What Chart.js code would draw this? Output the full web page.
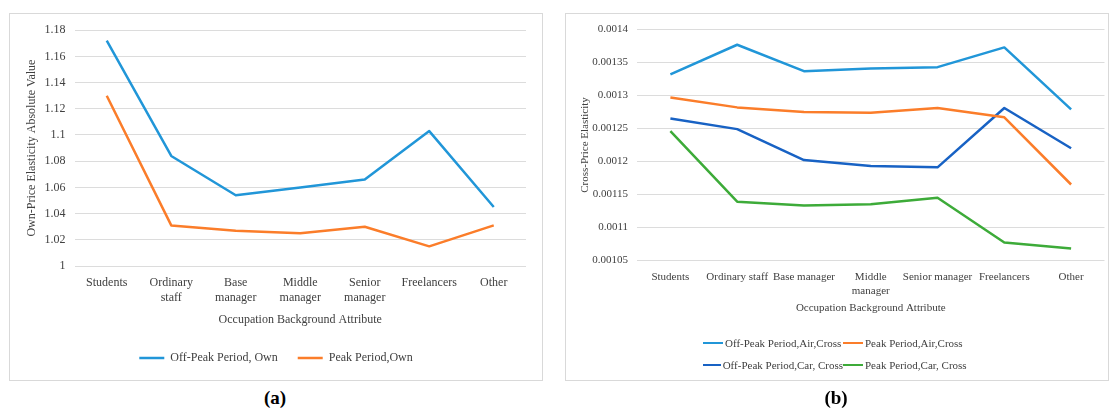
<!DOCTYPE html>
<html>
<head>
<meta charset="utf-8">
<script src="https://cdn.jsdelivr.net/npm/chart.js@4.4.0/dist/chart.umd.min.js"></script>
<style>
  html, body { margin: 0; padding: 0; background: #fff; }
  body { width: 1110px; height: 410px; position: relative; overflow: hidden; font-family: "Liberation Serif", "Times New Roman", serif; }
  .panel { position: absolute; border: 1px solid #d9d9d9; box-sizing: border-box; background: #fff; }
  #panelA { left: 9px; top: 13px; width: 534px; height: 368px; }
  #panelB { left: 565px; top: 13px; width: 544px; height: 368px; }
  .panel canvas { position: absolute; left: 0; top: 0; }
  .tag { position: absolute; top: 387px; font: bold 19px "Liberation Serif", serif; color: #000; transform: translateX(-50%); line-height: 22px; }
  #legendB { position: absolute; left: 137px; top: 318px; display: grid; grid-template-columns: 140px auto; }
  #legendB .item { display: flex; align-items: center; height: 22px; font: 11px "Liberation Serif", serif; color: #404040; white-space: nowrap; }
  #legendB .swatch { width: 20px; height: 2.5px; margin-right: 2px; }
</style>
</head>
<body>
<div class="panel" id="panelA"><canvas id="chartA" width="532" height="366"></canvas></div>
<div class="panel" id="panelB"><canvas id="chartB" width="542" height="366"></canvas><div id="legendB"></div></div>
<div class="tag" style="left:275px">(a)</div>
<div class="tag" style="left:836px">(b)</div>
<script>
// Occupation categories
const occupationLabelsA = [['Students'], ['Ordinary', 'staff'], ['Base', 'manager'], ['Middle', 'manager'], ['Senior', 'manager'], ['Freelancers'], ['Other']];
const occupationLabelsB = ['Students', 'Ordinary staff', 'Base manager', ['Middle', 'manager'], 'Senior manager', 'Freelancers', 'Other'];

// (a) own-price elasticity, absolute value
const offPeakOwn = [1.172, 1.084, 1.054, 1.060, 1.066, 1.103, 1.045];
const peakOwn = [1.130, 1.031, 1.027, 1.025, 1.030, 1.015, 1.031];

// (b) cross-price elasticity
const offPeakAirCross = [0.001332, 0.001377, 0.001337, 0.001341, 0.001343, 0.001373, 0.001279];
const peakAirCross = [0.001297, 0.001282, 0.001275, 0.001274, 0.001281, 0.001267, 0.001165];
const offPeakCarCross = [0.001265, 0.001249, 0.001202, 0.001193, 0.001191, 0.001281, 0.001220];
const peakCarCross = [0.001246, 0.001139, 0.001133, 0.001135, 0.001145, 0.001077, 0.001068];

// Axis ticks
const ownTickValues = [1, 1.02, 1.04, 1.06, 1.08, 1.1, 1.12, 1.14, 1.16, 1.18];
const ownTickLabels = ['1', '1.02', '1.04', '1.06', '1.08', '1.1', '1.12', '1.14', '1.16', '1.18'];
const crossTickValues = [0.00105, 0.0011, 0.00115, 0.0012, 0.00125, 0.0013, 0.00135, 0.0014];
const crossTickLabels = ['0.00105', '0.0011', '0.00115', '0.0012', '0.00125', '0.0013', '0.00135', '0.0014'];

const SERIF = '"Liberation Serif", "Times New Roman", serif';
const TEXT = '#404040';
const GRID = '#dcdcdc';
const C_LIGHT_BLUE = '#2196d8';
const C_ORANGE = '#fb7d2a';
const C_DARK_BLUE = '#1862c4';
const C_GREEN = '#3dab39';

function lineSet(label, data, color) {
  return {
    label, data,
    borderColor: color, backgroundColor: color,
    borderWidth: 2.5, pointRadius: 0, pointHoverRadius: 0,
    tension: 0, borderJoinStyle: 'round', fill: false
  };
}

Chart.defaults.font.family = SERIF;
Chart.defaults.color = TEXT;

// ---- (a) ----
new Chart(document.getElementById('chartA'), {
  type: 'line',
  data: {
    labels: occupationLabelsA,
    datasets: [
      lineSet('Off-Peak Period, Own', offPeakOwn, C_LIGHT_BLUE),
      lineSet('Peak Period,Own', peakOwn, C_ORANGE)
    ]
  },
  options: {
    responsive: false, animation: false, events: [],
    layout: { padding: { left: 16, right: 16, top: 14.5, bottom: 6 } },
    plugins: {
      tooltip: { enabled: false },
      legend: {
        position: 'bottom',
        labels: {
          usePointStyle: true, pointStyle: 'line', pointStyleWidth: 25,
          padding: 20, color: TEXT, font: { family: SERIF, size: 12 }
        }
      }
    },
    scales: {
      x: {
        offset: true,
        grid: { display: false, drawTicks: false },
        border: { display: false },
        ticks: { autoSkip: false, maxRotation: 0, padding: 9.5, color: TEXT, font: { family: SERIF, size: 12, lineHeight: 1.25 } },
        title: { display: true, text: 'Occupation Background Attribute', color: TEXT, font: { family: SERIF, size: 12 }, padding: { top: 0, bottom: 4.8 } },
        afterFit(scale) { scale.height = 66; }
      },
      y: {
        min: ownTickValues[0], max: ownTickValues[ownTickValues.length - 1],
        grid: { color: GRID, lineWidth: 1, drawTicks: false },
        border: { display: false },
        afterBuildTicks(scale) { scale.ticks = ownTickValues.map(v => ({ value: v })); },
        ticks: { padding: 9, color: TEXT, font: { family: SERIF, size: 12 }, callback: (v, i) => ownTickLabels[i] },
        title: { display: true, text: 'Own-Price Elasticity Absolute Value', color: TEXT, font: { family: SERIF, size: 12, lineHeight: 1 }, padding: 0 },
        afterFit(scale) { scale.width = 48.5; }
      }
    }
  }
});

// ---- (b) ----
const chartB = new Chart(document.getElementById('chartB'), {
  type: 'line',
  data: {
    labels: occupationLabelsB,
    datasets: [
      lineSet('Off-Peak Period,Air,Cross', offPeakAirCross, C_LIGHT_BLUE),
      lineSet('Peak Period,Air,Cross', peakAirCross, C_ORANGE),
      lineSet('Off-Peak Period,Car, Cross', offPeakCarCross, C_DARK_BLUE),
      lineSet('Peak Period,Car, Cross', peakCarCross, C_GREEN)
    ]
  },
  options: {
    responsive: false, animation: false, events: [],
    layout: { padding: { left: 8, right: 3.5, top: 12.7, bottom: 0 } },
    plugins: { tooltip: { enabled: false }, legend: { display: false } },
    scales: {
      x: {
        offset: true,
        grid: { display: false, drawTicks: false },
        border: { display: false },
        ticks: { autoSkip: false, maxRotation: 0, padding: 9, color: TEXT, font: { family: SERIF, size: 11, lineHeight: 1.33 } },
        title: { display: true, text: 'Occupation Background Attribute', color: TEXT, font: { family: SERIF, size: 11 }, padding: { top: 0, bottom: 65.7 } },
        afterFit(scale) { scale.height = 119.7; }
      },
      y: {
        min: crossTickValues[0], max: crossTickValues[crossTickValues.length - 1],
        grid: { color: GRID, lineWidth: 1, drawTicks: false },
        border: { display: false },
        afterBuildTicks(scale) { scale.ticks = crossTickValues.map(v => ({ value: v })); },
        ticks: { padding: 9, color: TEXT, font: { family: SERIF, size: 11 }, callback: (v, i) => crossTickLabels[i] },
        title: { display: true, text: 'Cross-Price Elasticity', color: TEXT, font: { family: SERIF, size: 11 }, padding: { top: 4.6, bottom: 0 } },
        afterFit(scale) { scale.width = 63; }
      }
    }
  }
});

// Two-column legend for (b), built from the chart's datasets
const legendB = document.getElementById('legendB');
chartB.data.datasets.forEach(ds => {
  const item = document.createElement('div');
  item.className = 'item';
  const sw = document.createElement('span');
  sw.className = 'swatch';
  sw.style.background = ds.borderColor;
  item.appendChild(sw);
  item.appendChild(document.createTextNode(ds.label));
  legendB.appendChild(item);
});
</script>
</body>
</html>
